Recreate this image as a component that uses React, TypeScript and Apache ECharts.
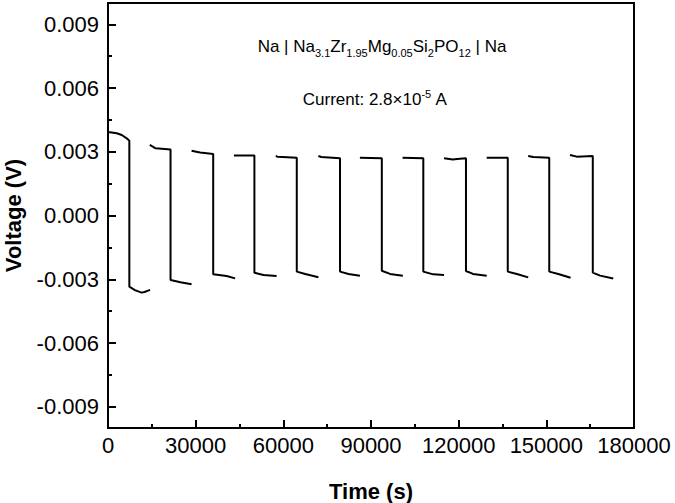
import React, { useEffect, useRef } from "react";
import * as echarts from "echarts";

// Time (s) and voltage (V); null breaks the trace between cycles
const time: number[] = [
  0, 700, 3000, 4700, 6400, 7300, 7300, 9200, 11500, 12500, 14400, 14400,
  14300, 16300, 21400, 21400, 24800, 28600, 28600,
  28600, 31500, 36000, 36000, 40600, 43500, 43500,
  43100, 50100, 50100, 53200, 57700, 57700,
  57400, 58000, 64600, 64600, 67500, 72000, 72000,
  72000, 73000, 79400, 79400, 82300, 86200, 86200,
  86200, 93700, 93700, 96500, 100900, 100900,
  100800, 107900, 107900, 111300, 115000, 115000,
  115000, 118000, 119500, 122500, 122500, 124900, 129600, 129600,
  129600, 136800, 136800, 139900, 143800, 143800,
  143800, 145500, 151000, 151000, 154100, 158300, 158300,
  158100, 160400, 165900, 165900, 168400, 172900,
];
const voltage: (number | null)[] = [
  0.00392, 0.00392, 0.00387, 0.00379, 0.00363, 0.00352, -0.00335, -0.00351, -0.00363, -0.0036, -0.0035, null,
  0.00332, 0.00316, 0.00311, -0.00304, -0.00314, -0.00324, null,
  0.00305, 0.00296, 0.00289, -0.00277, -0.00285, -0.00296, null,
  0.00282, 0.00282, -0.00269, -0.0028, -0.00285, null,
  0.0028, 0.00277, 0.00272, -0.00264, -0.00275, -0.00291, null,
  0.0028, 0.00275, 0.00269, -0.00264, -0.00275, -0.00283, null,
  0.00272, 0.00269, -0.0026, -0.00275, -0.00283, null,
  0.00272, 0.00269, -0.00264, -0.00277, -0.0028, null,
  0.00269, 0.00264, 0.00266, 0.00269, -0.00261, -0.00275, -0.00283, null,
  0.00272, 0.00272, -0.00264, -0.00275, -0.00291, null,
  0.0028, 0.00275, 0.00272, -0.00264, -0.00275, -0.00293, null,
  0.00285, 0.00277, 0.0028, -0.00269, -0.00283, -0.00296,
];

const yMajorTicks = [-0.009, -0.006, -0.003, 0, 0.003, 0.006, 0.009];
const yMinorTicks = [-0.0075, -0.0045, -0.0015, 0.0015, 0.0045, 0.0075];
const xMinorTicks = [15000, 45000, 75000, 105000, 135000, 165000];

const FONT = "Liberation Sans, Arial, sans-serif";

export default function App() {
  const ref = useRef<HTMLDivElement>(null);
  useEffect(() => {
    if (!ref.current) return;
    const chart = echarts.init(ref.current, undefined, { renderer: "svg" });
    const data = time.map((t, i) => [t, voltage[i] === null ? "-" : voltage[i]]);
    const axisLine = { show: true, onZero: false, lineStyle: { color: "#000", width: 2 } };
    const hiddenLine = { show: false, onZero: false };
    chart.setOption({
      animation: false,
      backgroundColor: "#fff",
      grid: {
        left: 108,
        top: 3,
        right: 41,
        bottom: 75,
        show: true,
        borderColor: "#000",
        borderWidth: 2,
        containLabel: false,
        outerBoundsMode: "none",
      },
      xAxis: [
        {
          type: "value",
          min: 0,
          max: 180000,
          interval: 30000,
          axisLine,
          axisTick: { show: true, inside: true, length: 8, lineStyle: { color: "#000", width: 2 } },
          splitLine: { show: false },
          axisLabel: {
            color: "#000",
            fontFamily: FONT,
            fontSize: 22,
            margin: 6,
            formatter: (v: number) => String(v),
          },
          name: "Time (s)",
          nameLocation: "middle",
          nameGap: 52,
          nameTextStyle: { color: "#000", fontFamily: FONT, fontSize: 22, fontWeight: "bold" },
        },
        {
          type: "value",
          position: "bottom",
          min: 0,
          max: 180000,
          axisLine: hiddenLine,
          axisLabel: { show: false },
          splitLine: { show: false },
          axisTick: {
            show: true,
            inside: true,
            length: 4,
            customValues: xMinorTicks,
            lineStyle: { color: "#000", width: 2 },
          },
        },
      ],
      yAxis: [
        {
          type: "value",
          min: -0.01,
          max: 0.01,
          axisLine,
          axisTick: {
            show: true,
            inside: true,
            length: 8,
            customValues: yMajorTicks,
            lineStyle: { color: "#000", width: 2 },
          },
          splitLine: { show: false },
          axisLabel: {
            color: "#000",
            fontFamily: FONT,
            fontSize: 22,
            margin: 9,
            customValues: yMajorTicks,
            formatter: (v: number) => v.toFixed(3),
          },
          name: "Voltage (V)",
          nameLocation: "middle",
          nameGap: 84,
          nameTextStyle: { color: "#000", fontFamily: FONT, fontSize: 22, fontWeight: "bold" },
        },
        {
          type: "value",
          position: "left",
          min: -0.01,
          max: 0.01,
          axisLine: hiddenLine,
          axisLabel: { show: false },
          splitLine: { show: false },
          axisTick: {
            show: true,
            inside: true,
            length: 4,
            customValues: yMinorTicks,
            lineStyle: { color: "#000", width: 2 },
          },
        },
      ],
      series: [
        {
          type: "line",
          xAxisIndex: 0,
          yAxisIndex: 0,
          data,
          showSymbol: false,
          symbol: "none",
          connectNulls: false,
          lineStyle: { color: "#000", width: 2 },
        },
      ],
      graphic: [
        {
          type: "text",
          x: 382,
          y: 46,
          style: {
            text: "{n|Na | Na}{s|3.1}{n|Zr}{s|1.95}{n|Mg}{s|0.05}{n|Si}{s|2}{n|PO}{s|12}{n| | Na}",
            align: "center",
            verticalAlign: "middle",
            fill: "#000",
            rich: {
              n: { fontSize: 17, fontFamily: FONT, fill: "#000" },
              s: { fontSize: 11, fontFamily: FONT, fill: "#000", padding: [13, 0, 0, 0] },
            },
          },
        },
        {
          type: "text",
          x: 375,
          y: 99,
          style: {
            text: "{n|Current: 2.8×10}{p|-5}{n| A}",
            align: "center",
            verticalAlign: "middle",
            fill: "#000",
            rich: {
              n: { fontSize: 17, fontFamily: FONT, fill: "#000" },
              p: { fontSize: 11, fontFamily: FONT, fill: "#000", padding: [0, 0, 11, 0] },
            },
          },
        },
      ],
    });
    return () => chart.dispose();
  }, []);
  return <div ref={ref} style={{ width: 675, height: 503, position: "absolute", left: 0, top: 0 }} />;
}
